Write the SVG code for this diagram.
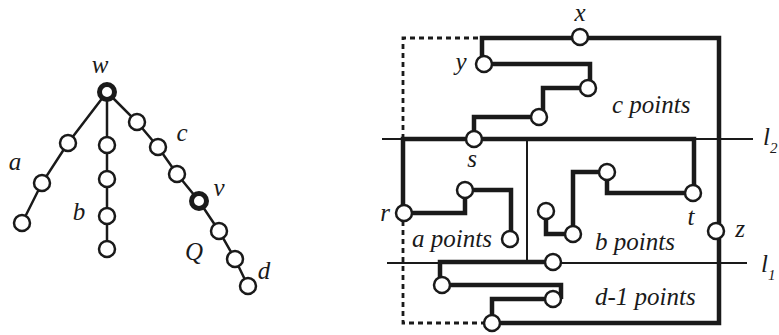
<svg xmlns="http://www.w3.org/2000/svg" width="779" height="335" viewBox="0 0 779 335">
  <style>
    .edge { stroke: #1a1a1a; stroke-width: 2.5; fill: none; }
    .thick { stroke: #1a1a1a; stroke-width: 4.5; fill: none; stroke-linejoin: miter; }
    .thin { stroke: #1a1a1a; stroke-width: 2; fill: none; }
    .dash { stroke: #1a1a1a; stroke-width: 2.8; fill: none; stroke-dasharray: 5 4; }
    .pt { fill: #fff; stroke: #1a1a1a; stroke-width: 2.5; }
    .big { fill: #fff; stroke: #1a1a1a; stroke-width: 5; }
    text { font-family: "Liberation Serif", "DejaVu Serif", serif; font-style: italic; fill: #1a1a1a; }
    .lbl { font-size: 25px; }
    .sub { font-size: 15px; }
  </style>
  <rect width="779" height="335" fill="#fff"/>

  <!-- tree -->
  <g id="tree-edges">
    <polyline class="edge" points="107,92 68,143 42,183 22,223"/>
    <polyline class="edge" points="107,92 107,145 107,179 107,216 107,249"/>
    <polyline class="edge" points="107,92 137,122 158,147 177,174 199,201 219,231 235,259 248,286"/>
  </g>
  <g id="w"><circle class="big" cx="107" cy="92" r="7.5"/><text class="lbl" x="100" y="73" text-anchor="middle">w</text></g>
  <g id="branch-a">
    <circle class="pt" cx="68" cy="143" r="8"/>
    <circle class="pt" cx="42" cy="183" r="8"/>
    <circle class="pt" cx="22" cy="223" r="8"/>
    <text class="lbl" x="15" y="170" text-anchor="middle">a</text>
  </g>
  <g id="branch-b">
    <circle class="pt" cx="107" cy="145" r="8"/>
    <circle class="pt" cx="107" cy="179" r="8"/>
    <circle class="pt" cx="107" cy="216" r="8"/>
    <circle class="pt" cx="107" cy="249" r="8"/>
    <text class="lbl" x="79" y="220" text-anchor="middle">b</text>
  </g>
  <g id="branch-c">
    <circle class="pt" cx="137" cy="122" r="8"/>
    <circle class="pt" cx="158" cy="147" r="8"/>
    <circle class="pt" cx="177" cy="174" r="8"/>
    <text class="lbl" x="182" y="141" text-anchor="middle">c</text>
  </g>
  <g id="v"><circle class="big" cx="199" cy="201" r="7.5"/><text class="lbl" x="219" y="196" text-anchor="middle">v</text></g>
  <g id="branch-d">
    <circle class="pt" cx="219" cy="231" r="8"/>
    <circle class="pt" cx="235" cy="259" r="8"/>
    <circle class="pt" cx="248" cy="286" r="8"/>
    <text class="lbl" x="194" y="260" text-anchor="middle">Q</text>
    <text class="lbl" x="264" y="279" text-anchor="middle">d</text>
  </g>

  <!-- layout -->
  <g id="connectors">
    <line class="thin" x1="382" y1="139" x2="753" y2="139"/>
    <line class="thin" x1="387" y1="263" x2="747" y2="263"/>
    <line class="thin" x1="527" y1="139" x2="527" y2="262"/>
    <polyline class="dash" points="403,139 403,38 482,38"/>
    <polyline class="dash" points="403,221 403,323 484,323"/>
    <polyline class="thick" points="484,64 482,64 482,38 719,38 719,323 492,323"/>
    <polyline class="thick" points="484,64 590,64 590,88"/>
    <polyline class="thick" points="588,88 543,88 543,117"/>
    <polyline class="thick" points="539,117 474,117 474,139"/>
    <polyline class="thick" points="403,213 403,139 694,139 694,193"/>
    <polyline class="thick" points="403,213 465,213 465,190"/>
    <polyline class="thick" points="465,190 511,190 511,239"/>
    <polyline class="thick" points="693,193 607,193 607,172"/>
    <polyline class="thick" points="607,172 573,172 573,234"/>
    <polyline class="thick" points="573,234 546,234 546,211"/>
    <polyline class="thick" points="553,262 440,262 440,285"/>
    <polyline class="thick" points="442,285 561,285 561,299"/>
    <polyline class="thick" points="553,299 492,299 492,323"/>
  </g>
  <g id="x"><circle class="pt" cx="580" cy="37" r="8"/><text class="lbl" x="580" y="21" text-anchor="middle">x</text></g>
  <g id="y"><circle class="pt" cx="484" cy="64" r="8"/><text class="lbl" x="461" y="70" text-anchor="middle">y</text></g>
  <g id="c1"><circle class="pt" cx="588" cy="88" r="8"/></g>
  <g id="c2"><circle class="pt" cx="539" cy="117" r="8"/></g>
  <g id="s"><circle class="pt" cx="474" cy="139" r="8"/><text class="lbl" x="472" y="167" text-anchor="middle">s</text></g>
  <g id="r"><circle class="pt" cx="404" cy="213" r="8"/><text class="lbl" x="385" y="221" text-anchor="middle">r</text></g>
  <g id="a1"><circle class="pt" cx="465" cy="190" r="8"/></g>
  <g id="a2"><circle class="pt" cx="510" cy="239" r="8"/></g>
  <g id="t"><circle class="pt" cx="693" cy="193" r="8"/><text class="lbl" x="691" y="225" text-anchor="middle">t</text></g>
  <g id="b1"><circle class="pt" cx="607" cy="172" r="8"/></g>
  <g id="b2"><circle class="pt" cx="573" cy="234" r="8"/></g>
  <g id="b3"><circle class="pt" cx="546" cy="211" r="8"/></g>
  <g id="z"><circle class="pt" cx="716" cy="231" r="8"/><text class="lbl" x="740" y="237" text-anchor="middle">z</text></g>
  <g id="l1p"><circle class="pt" cx="553" cy="262" r="8"/></g>
  <g id="d1"><circle class="pt" cx="442" cy="285" r="8"/></g>
  <g id="d2"><circle class="pt" cx="553" cy="299" r="8"/></g>
  <g id="d3"><circle class="pt" cx="492" cy="323" r="8"/></g>
  <g id="labels">
    <text class="lbl" x="612" y="113">c points</text>
    <text class="lbl" x="412" y="247">a points</text>
    <text class="lbl" x="595" y="250">b points</text>
    <text class="lbl" x="595" y="305">d-1 points</text>
    <text class="lbl" x="763" y="145">l</text><text class="sub" x="770" y="153">2</text>
    <text class="lbl" x="761" y="272">l</text><text class="sub" x="768" y="280">1</text>
  </g>
</svg>
